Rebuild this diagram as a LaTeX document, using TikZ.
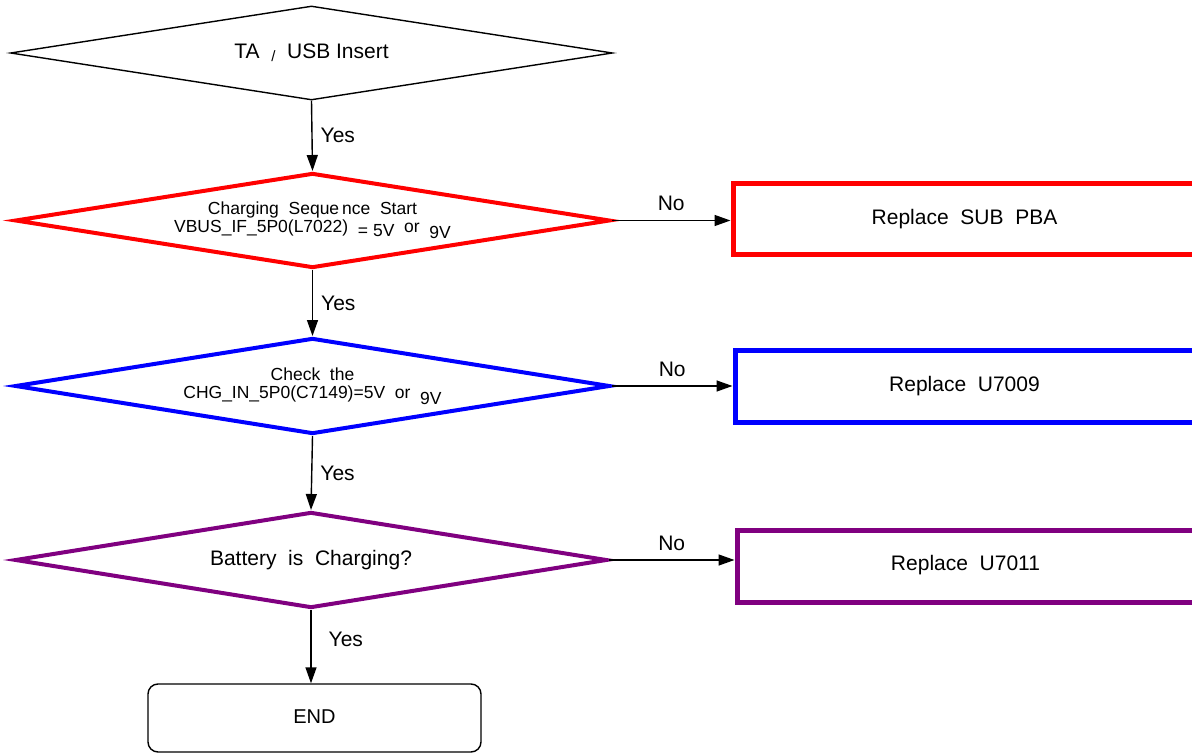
\documentclass[tikz,border=0pt]{standalone}
\usepackage{fontspec}
\setmainfont{Liberation Sans}
\usetikzlibrary{shapes.geometric,arrows.meta}
\definecolor{dred}{RGB}{255,0,0}
\definecolor{dblue}{RGB}{0,0,255}
\definecolor{dpurple}{RGB}{128,0,128}
\tikzset{
  dec/.style={diamond, aspect=6.4, inner sep=0pt, align=center, font=\fontsize{17.5}{18}\selectfont},
  repbox/.style={rectangle, line width=5pt, inner sep=0pt, font=\fontsize{21}{23}\selectfont},
  conn/.style={line width=1.4pt, -{Triangle[length=16pt,width=11pt]}},
  lab/.style={font=\fontsize{21}{23}\selectfont, inner sep=0pt},
}
\begin{document}
\begin{tikzpicture}[x=1pt,y=-1pt]
\useasboundingbox (0,0) rectangle (1192,754);
\node[dec, draw, line width=1.4pt, minimum width=602pt, minimum height=94pt, font=\fontsize{21}{23}\selectfont] (d1) at (311.5,53) {TA\ \ \raisebox{-3pt}{\fontsize{15}{15}\selectfont /}\ \ USB\ Insert};
\node[dec, draw=dred, line width=4pt, minimum width=595pt, minimum height=95pt] (d2) at (312.5,220.5)
  {Charging\ \ Seque\,nce\ \ Start\\ VBUS\_IF\_5P0(L7022)\ \ \raisebox{-4pt}{=\ 5V}\ \ or\ \ \raisebox{-6pt}{9V}};
\node[dec, draw=dblue, line width=4pt, minimum width=595pt, minimum height=96pt] (d3) at (312.5,386)
  {Check\ \ the\\ CHG\_IN\_5P0(C7149)=5V\ \ or\ \ \raisebox{-6pt}{9V}};
\node[dec, draw=dpurple, line width=4pt, minimum width=592pt, minimum height=96pt, font=\fontsize{21}{23}\selectfont] (d4) at (311,560) {Battery\ \ is\ \ Charging?};
\node[draw, line width=1.4pt, rounded corners=10pt, minimum width=333pt, minimum height=68pt, inner sep=0pt, font=\fontsize{20}{22}\selectfont] (end) at (314.5,718) {\raisebox{3pt}{END}};
\node[repbox, draw=dred, minimum width=463pt, minimum height=71pt] (r1) at (964.5,219.5) {\raisebox{5pt}{Replace\ \ SUB\ \ PBA}};
\node[repbox, draw=dblue, minimum width=459pt, minimum height=72pt] (r2) at (964.5,386) {\raisebox{5pt}{Replace\ \ U7009}};
\node[repbox, draw=dpurple, minimum width=457pt, minimum height=72pt] (r3) at (965.5,566) {\raisebox{6pt}{Replace\ \ U7011}};
\draw[conn] (d1.south) -- node[lab, right=8pt] {Yes} (d2.north);
\draw[conn] (d2.south) -- node[lab, right=8pt] {Yes} (d3.north);
\draw[conn] (d3.south) -- node[lab, right=8pt] {Yes} (d4.north);
\draw[conn] (d4.south) -- node[lab, pos=0.4, right=17pt] {Yes} (d4.south |- end.north);
\draw[conn] (d2.east) -- node[lab, above=9pt] {No} (r1.west |- d2.east);
\draw[conn] (d3.east) -- node[lab, above=9pt] {No} (r2.west |- d3.east);
\draw[conn] (d4.east) -- node[lab, above=9pt] {No} (r3.west |- d4.east);
\end{tikzpicture}
\end{document}
